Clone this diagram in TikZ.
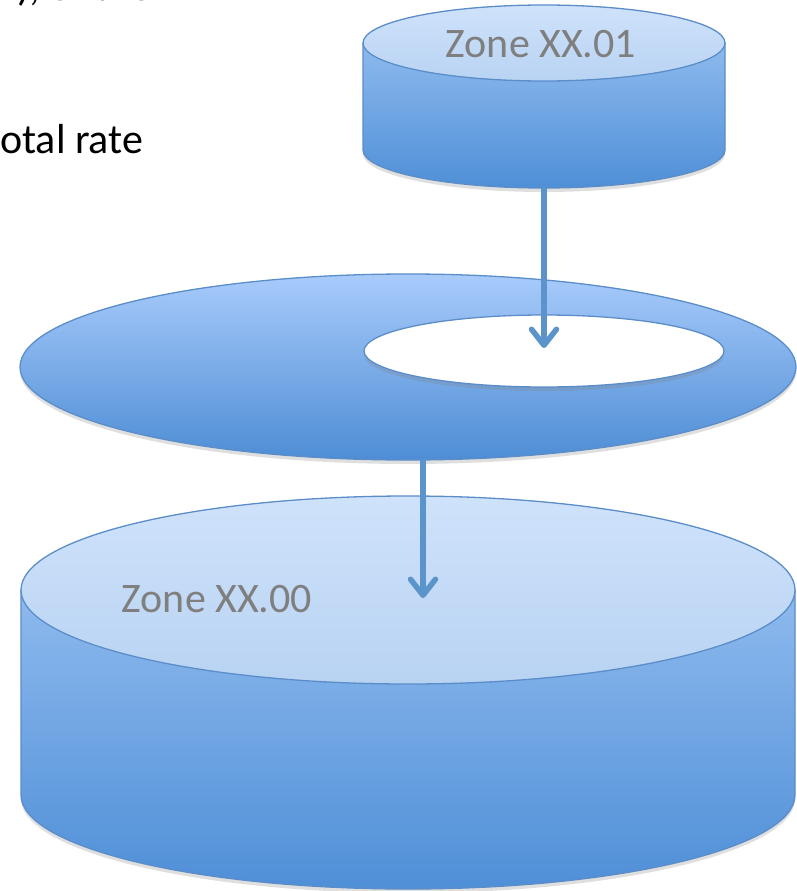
\documentclass[tikz,border=0pt]{standalone}
\usepackage{fontspec}
\setmainfont{Carlito}
\usetikzlibrary{arrows.meta,shadows}
\definecolor{zoneline}{HTML}{5B8DC8}
\definecolor{zonearrow}{HTML}{5B93CB}
\definecolor{zonegray}{HTML}{7F7F7F}
\definecolor{capA}{HTML}{CFE2FB}
\definecolor{capB}{HTML}{B8D3F2}
\definecolor{sideA}{HTML}{8EBAEE}
\definecolor{sideB}{HTML}{4F8FD7}
\definecolor{discA}{HTML}{A8CBFB}
\definecolor{discB}{HTML}{4E8DD5}

\begin{document}
\begin{tikzpicture}[x=1pt,y=-1pt,
  outline/.style={draw=zoneline,line width=1.3pt},
  capface/.style={outline,top color=capA,bottom color=capB},
  sideface/.style={outline,top color=sideA,bottom color=sideB},
  discface/.style={outline,top color=discA,bottom color=discB},
  shadowed/.style={drop shadow={shadow xshift=0pt,shadow yshift=-4pt,opacity=0.25}},
  flow/.style={draw=zonearrow,line width=5.5pt,-{Straight Barb[length=16pt,width=25pt,round]}},
  zonelabel/.style={text=zonegray,font=\fontsize{42}{50}\selectfont,anchor=base,inner sep=0pt},
  bodytext/.style={text=black,font=\fontsize{42}{50}\selectfont,anchor=base west,inner sep=0pt}]
\useasboundingbox (0,0) rectangle (796,891);
\node[bodytext] (thetext) at (17,1) {), of the};
\node[bodytext] (ratetext) at (0,153) {otal rate};
\shade[sideface,shadowed] (21,590) -- (21,795) arc[start angle=180,end angle=0,x radius=387,y radius=94] -- (795,590) -- cycle;
\shade[capface] (408,590) ellipse[x radius=387,y radius=94];
\shade[sideface,shadowed] (363,43) -- (363,150) arc[start angle=180,end angle=0,x radius=181,y radius=38] -- (725,43) -- cycle;
\shade[capface] (544,43) ellipse[x radius=181,y radius=38];
\shade[discface,shadowed] (408,367) ellipse[x radius=388,y radius=93];
\draw[outline,fill=white,shadowed] (544,351) ellipse[x radius=180,y radius=36];
\node[zonelabel] (upperzone) at (541,57) {Zone XX.01};
\node[zonelabel] (lowerzone) at (217,612) {Zone XX.00};
\coordinate (upperbase) at (544,188);
\coordinate (hole) at (544,348);
\coordinate (discbase) at (423,459);
\coordinate (lowerzonetop) at (423,598);
\draw[flow] (upperbase) -- (hole);
\draw[flow] (discbase) -- (lowerzonetop);
\end{tikzpicture}
\end{document}
